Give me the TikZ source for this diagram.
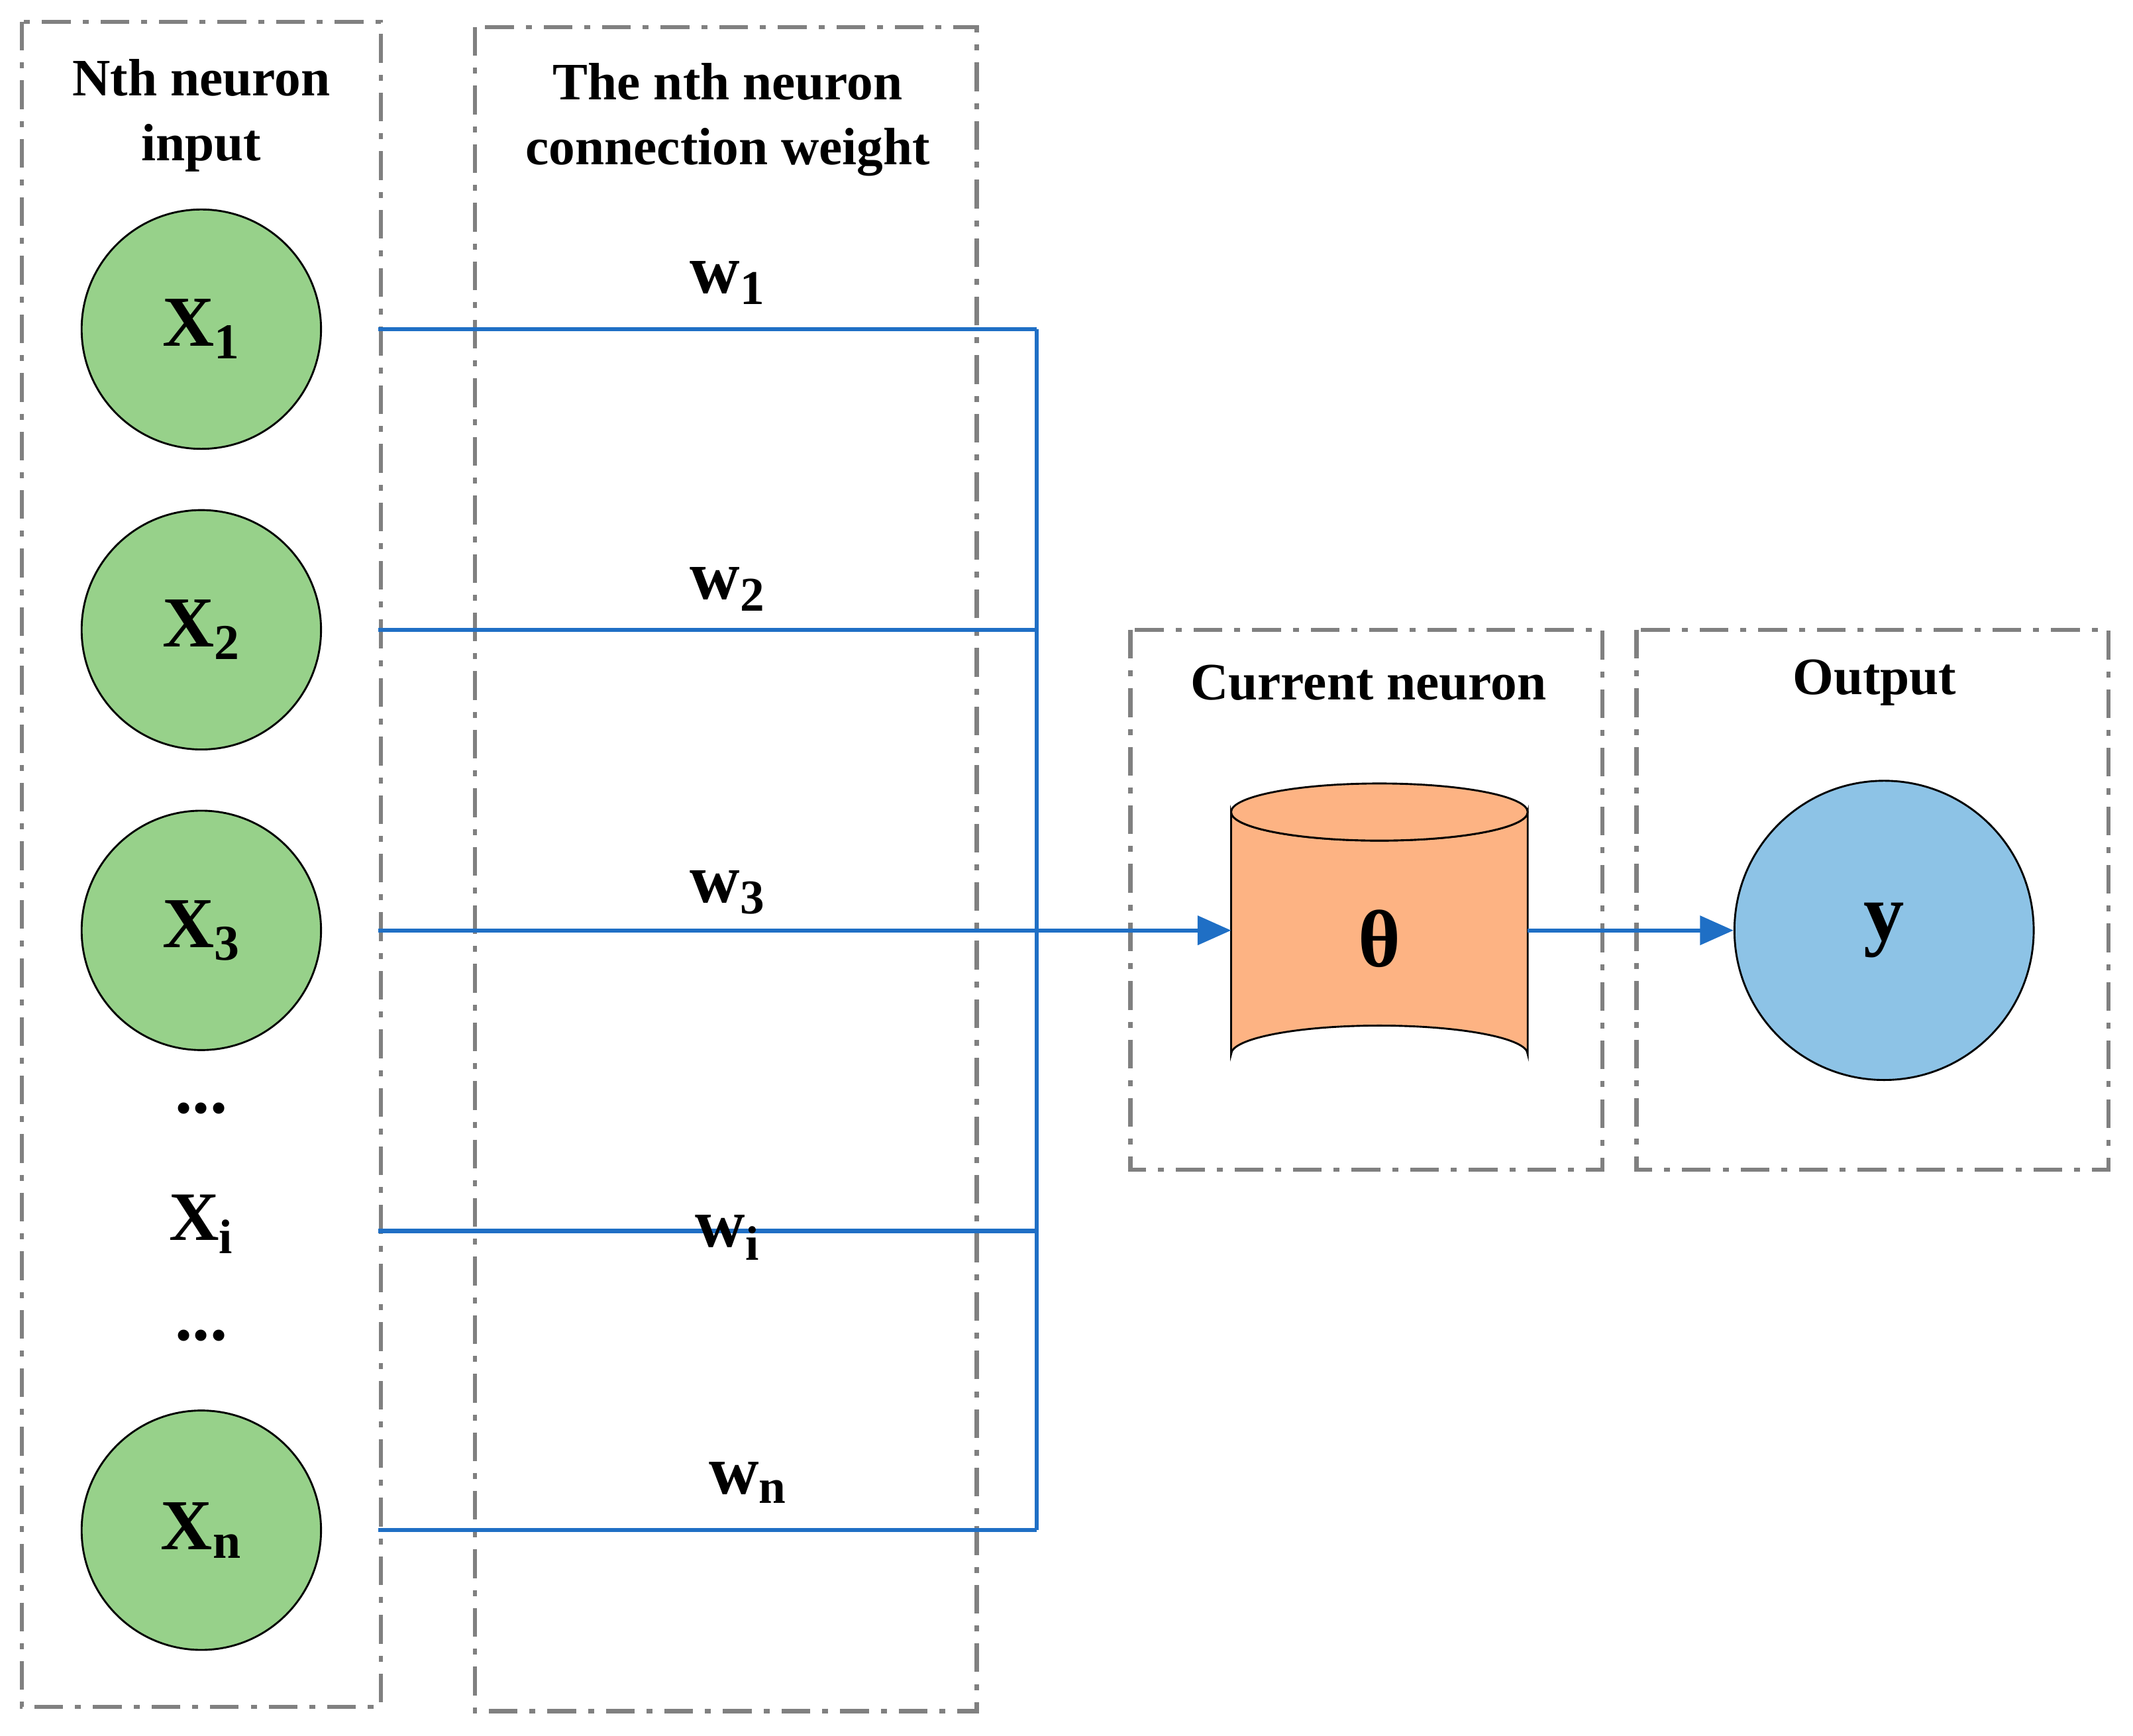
\documentclass[tikz,border=0pt]{standalone}
\usepackage{fontspec}
\setmainfont{Liberation Serif}
\usetikzlibrary{arrows.meta}
\definecolor{gbox}{HTML}{808080}
\definecolor{wire}{HTML}{1F6FC5}
\definecolor{green1}{HTML}{97D18A}
\definecolor{orange1}{HTML}{FDB383}
\definecolor{blue1}{HTML}{8DC3E6}
\begin{document}
\begin{tikzpicture}[x=0.02cm,y=-0.02cm,
  box/.style={draw=gbox,line width=1.7pt,dash pattern=on 12pt off 5pt on 2.5pt off 5pt},
  wl/.style={draw=wire,line width=1.7pt},
  inp/.style={circle,draw=black,line width=0.8pt,fill=green1,minimum size=176*0.02cm,inner sep=0pt,font=\fontsize{30}{30}\selectfont\bfseries},
  lbl/.style={font=\fontsize{29}{29}\selectfont\bfseries},
  ttl/.style={font=\fontsize{22}{27}\selectfont\bfseries,align=center}]
\useasboundingbox (0,0) rectangle (1568,1276);
\draw[box] (16,16) rectangle (280,1255);
\draw[box] (349,20) rectangle (718,1258);
\draw[box] (831,463) rectangle (1178,860);
\draw[box] (1203,463) rectangle (1550,860);
\node[ttl] (t1) at (148,85) {Nth neuron\\input};
\node[ttl] (t2) at (535,88) {The nth neuron\\connection weight};
\node[ttl] (t3) at (1006,502) {Current neuron};
\node[ttl] (t4) at (1378,502) {Output};
\node[inp] (x1) at (148,242) {X\textsubscript{1}};
\node[inp] (x2) at (148,463) {X\textsubscript{2}};
\node[inp] (x3) at (148,684) {X\textsubscript{3}};
\node[inp] (xn) at (148,1125) {X\textsubscript{n}};
\node[lbl] (d1) at (148,815) {...};
\node[lbl] (xi) at (148,900) {X\textsubscript{i}};
\node[lbl] (d2) at (148,982) {...};
\coordinate (a1) at (278,242); \coordinate (b1) at (762,242);
\coordinate (a2) at (278,463); \coordinate (b2) at (762,463);
\coordinate (a3) at (278,684); \coordinate (b3) at (762,684);
\coordinate (ai) at (278,905); \coordinate (bi) at (762,905);
\coordinate (an) at (278,1125); \coordinate (bn) at (762,1125);
\draw[wl] (a1)--(b1) (a2)--(b2) (a3)--(b3) (ai)--(bi) (an)--(bn) (b1)--(bn);
\node[lbl] (w1) at (535,208) {w\textsubscript{1}};
\node[lbl] (w2) at (535,433) {w\textsubscript{2}};
\node[lbl] (w3) at (535,656) {w\textsubscript{3}};
\node[lbl] (wi) at (535,910) {w\textsubscript{i}};
\node[lbl] (wn) at (550,1090) {w\textsubscript{n}};
% cylinder
\draw[fill=orange1,line width=0.8pt] (905,597) -- (905,775) arc[start angle=180,end angle=360,x radius=109,y radius=21] -- (1123,597) arc[start angle=0,end angle=180,x radius=109,y radius=21] -- cycle;
\draw[fill=orange1,line width=0.8pt] (1014,597) ellipse[x radius=109,y radius=21];
\node[font=\fontsize{34}{34}\selectfont\bfseries] (th) at (1014,690) {θ};
\coordinate (cl) at (905,684); \coordinate (cr) at (1123,684);
\node[circle,draw=black,line width=0.8pt,fill=blue1,minimum size=220*0.02cm,inner sep=0pt,font=\fontsize{34}{34}\selectfont\bfseries] (y) at (1385,684) {y};
\draw[wl,-{Triangle[length=14pt,width=12pt]}] (b3)--(cl);
\draw[wl,-{Triangle[length=14pt,width=12pt]}] (cr)--(y);
\end{tikzpicture}
\end{document}
